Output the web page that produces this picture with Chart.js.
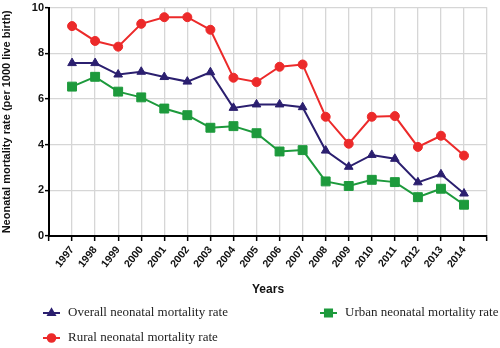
<!DOCTYPE html>
<html>
<head>
<meta charset="utf-8">
<script src="https://cdn.jsdelivr.net/npm/chart.js@4/dist/chart.umd.min.js"></script>
<style>
  html, body { margin: 0; padding: 0; background: #fff; }
  #wrap { width: 500px; height: 348px; }
</style>
</head>
<body>
<div id="wrap"><canvas id="nmr" width="500" height="348"></canvas></div>
<script>
const years = [1997, 1998, 1999, 2000, 2001, 2002, 2003, 2004, 2005, 2006, 2007, 2008, 2009, 2010, 2011, 2012, 2013, 2014];
const overall = [7.57, 7.57, 7.07, 7.19, 6.96, 6.76, 7.17, 5.61, 5.76, 5.76, 5.64, 3.74, 3.03, 3.55, 3.38, 2.35, 2.70, 1.86];
const urban = [6.54, 6.97, 6.32, 6.07, 5.58, 5.29, 4.74, 4.81, 4.50, 3.70, 3.76, 2.39, 2.19, 2.46, 2.36, 1.70, 2.07, 1.37];
const rural = [9.19, 8.54, 8.29, 9.29, 9.58, 9.58, 9.03, 6.93, 6.74, 7.41, 7.51, 5.22, 4.04, 5.22, 5.25, 3.90, 4.39, 3.52];
const yTicks = [0, 2, 4, 6, 8, 10];

const BLUE = '#2b1f6f';
const GREEN = '#1d9a3c';
const RED = '#ec2a2a';

function toPoints(vals) {
  return years.map((y, i) => ({ x: y, y: vals[i] }));
}

// legend laid out in two columns like the original figure
const legendPlugin = {
  id: 'gridLegend',
  afterDraw(chart) {
    const ctx = chart.ctx;
    const items = [
      { ds: 0, x: 43, y: 313 },
      { ds: 1, x: 320, y: 313 },
      { ds: 2, x: 43, y: 338 }
    ];
    ctx.save();
    items.forEach(item => {
      const ds = chart.data.datasets[item.ds];
      ctx.strokeStyle = ds.borderColor;
      ctx.fillStyle = ds.backgroundColor;
      ctx.lineWidth = 2;
      ctx.beginPath();
      ctx.moveTo(item.x, item.y);
      ctx.lineTo(item.x + 17, item.y);
      ctx.stroke();
      Chart.helpers.drawPoint(ctx, {
        pointStyle: ds.pointStyle,
        radius: ds.pointStyle === 'rect' ? 5 : 3.8,
        borderWidth: 1
      }, item.x + 8.5, item.y);
      ctx.fillStyle = '#222';
      ctx.font = '13px "Liberation Serif", "Times New Roman", serif';
      ctx.textBaseline = 'middle';
      ctx.textAlign = 'left';
      ctx.fillText(ds.label, item.x + 25, item.y);
    });
    ctx.restore();
  }
};

new Chart(document.getElementById('nmr'), {
  type: 'line',
  data: {
    datasets: [
      {
        label: 'Overall neonatal mortality rate',
        data: toPoints(overall),
        borderColor: BLUE,
        backgroundColor: BLUE,
        pointStyle: 'triangle',
        pointRadius: 5
      },
      {
        label: 'Urban neonatal mortality rate',
        data: toPoints(urban),
        borderColor: GREEN,
        backgroundColor: GREEN,
        pointStyle: 'rect',
        pointRadius: 6.3
      },
      {
        label: 'Rural neonatal mortality rate',
        data: toPoints(rural),
        borderColor: RED,
        backgroundColor: RED,
        pointStyle: 'circle',
        pointRadius: 4.5
      }
    ]
  },
  options: {
    responsive: false,
    animation: false,
    layout: { padding: { top: 6, right: 7, bottom: 49, left: 0 } },
    elements: {
      line: { borderWidth: 2, tension: 0 },
      point: { borderWidth: 1 }
    },
    plugins: {
      legend: { display: false },
      tooltip: { enabled: false }
    },
    scales: {
      x: {
        type: 'linear',
        min: 1996,
        max: 2015,
        afterBuildTicks(axis) {
          const t = [];
          for (let v = 1996; v <= 2015; v++) t.push({ value: v });
          axis.ticks = t;
        },
        afterFit(axis) { axis.height = 63; },
        border: { color: '#000', width: 2 },
        grid: { color: '#d6d6d6', lineWidth: 1.3, tickColor: '#000', tickLength: 5, tickWidth: 1.5 },
        ticks: {
          autoSkip: false,
          minRotation: 52,
          maxRotation: 52,
          padding: 3,
          color: '#111',
          font: { family: '"Liberation Sans", Arial, sans-serif', size: 10.5, weight: 'bold' },
          callback: v => years.includes(v) ? String(v) : ''
        },
        title: {
          display: true,
          text: 'Years',
          color: '#111',
          padding: { top: 4, bottom: 2 },
          font: { family: '"Liberation Sans", Arial, sans-serif', size: 12, weight: 'bold' }
        }
      },
      y: {
        min: 0,
        max: 10,
        afterBuildTicks(axis) {
          axis.ticks = yTicks.map(v => ({ value: v }));
        },
        afterFit(axis) { axis.width = 49; },
        border: { color: '#000', width: 2 },
        grid: { color: '#d6d6d6', lineWidth: 1.3, tickColor: '#000', tickLength: 4, tickWidth: 1.5 },
        ticks: {
          padding: 1,
          color: '#111',
          font: { family: '"Liberation Sans", Arial, sans-serif', size: 11, weight: 'bold' }
        },
        title: {
          display: true,
          text: 'Neonatal mortality rate (per 1000 live birth)',
          color: '#111',
          padding: { top: 0, bottom: 2 },
          font: { family: '"Liberation Sans", Arial, sans-serif', size: 11, weight: 'bold' }
        }
      }
    }
  },
  plugins: [legendPlugin]
});
</script>
</body>
</html>
